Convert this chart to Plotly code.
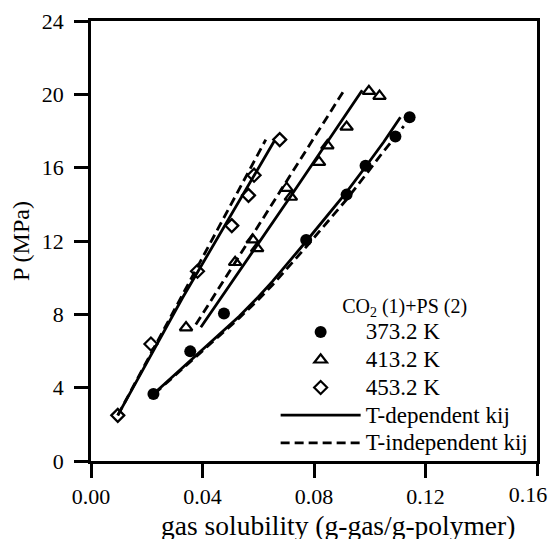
import plotly.graph_objects as go

# ---- measured data (gas solubility g-gas/g-polymer, pressure MPa) ----
sol_373 = [0.0224, 0.0356, 0.0477, 0.0772, 0.0917, 0.0985, 0.1092, 0.1143]
p_373 = [3.66, 5.98, 8.05, 12.05, 14.53, 16.10, 17.70, 18.75]

sol_413 = [0.0341, 0.0517, 0.0580, 0.0596, 0.0702, 0.0717, 0.0818, 0.0848, 0.0917, 0.0997, 0.1035]
p_413 = [7.28, 10.84, 12.07, 11.60, 14.88, 14.40, 16.30, 17.20, 18.22, 20.17, 19.90]

sol_453 = [0.0096, 0.0215, 0.0382, 0.0505, 0.0565, 0.0585, 0.0677]
p_453 = [2.49, 6.38, 10.35, 12.84, 14.49, 15.59, 17.53]

# ---- model curves ----
tdep_373_x = [0.0227, 0.030, 0.037, 0.045, 0.0532, 0.060, 0.0651, 0.0773, 0.085, 0.0916, 0.0985, 0.105, 0.111]
tdep_373_y = [3.70, 4.70, 5.65, 6.75, 7.90, 8.95, 9.80, 12.00, 13.40, 14.65, 16.05, 17.40, 18.75]
tind_373_x = [0.0227, 0.030, 0.037, 0.045, 0.0532, 0.060, 0.0651, 0.0773, 0.085, 0.0916, 0.0985, 0.105, 0.1122]
tind_373_y = [3.66, 4.65, 5.60, 6.68, 7.80, 8.80, 9.60, 11.70, 13.05, 14.25, 15.60, 16.90, 18.26]

tdep_413_x = [0.0394, 0.0466, 0.0717, 0.0973]
tdep_413_y = [7.30, 8.90, 14.45, 20.22]
tind_413_x = [0.0376, 0.0517, 0.0908]
tind_413_y = [7.44, 10.84, 20.22]

tdep_453_x = [0.0096, 0.0328, 0.0657]
tdep_453_y = [2.49, 8.89, 17.44]
tind_453_x = [0.0096, 0.030, 0.0627]
tind_453_y = [2.49, 8.30, 17.53]

x_ticks = [0.00, 0.04, 0.08, 0.12]
x_ticklabels = ["0.00", "0.04", "0.08", "0.12"]
x_last_tick = [0.16]
x_last_label = ["0.16"]
y_ticks = [0, 4, 8, 12, 16, 20, 24]

x_title = "gas solubility (g-gas/g-polymer)"
y_title = "P (MPa)"
legend_title = "CO<sub>2</sub> (1)+PS (2)"
series_names = ["373.2 K", "413.2 K", "453.2 K"]
model_names = ["T-dependent kij", "T-independent kij"]

FONT = "Liberation Serif, Times New Roman, serif"
LW = 2.8


def big(txt):
    return "<span style='font-size:23px'>" + txt + "</span>"


fig = go.Figure()

# (x, y, kind 0=solid/1=dashed, show in legend, x-axis id)
line_sets = [
    (tdep_373_x, tdep_373_y, 0, True, "x"),
    (tdep_413_x, tdep_413_y, 0, False, "x"),
    (tdep_453_x, tdep_453_y, 0, False, "x"),
    (tind_373_x, tind_373_y, 1, True, "x"),
    (tind_413_x, tind_413_y, 1, False, "x"),
    (tind_453_x, tind_453_y, 1, False, "x2"),  # x2 shares the same range as x
]
for xs, ys, kind, show, xa in line_sets:
    fig.add_trace(go.Scatter(
        x=xs, y=ys, mode="lines", name=big(model_names[kind]), showlegend=show,
        xaxis=xa, yaxis="y",
        line=dict(color="black", width=LW, dash="solid" if kind == 0 else "9px,5px"),
        legendrank=10 + kind,
    ))

fig.add_trace(go.Scatter(
    x=sol_373, y=p_373, mode="markers", name=big(series_names[0]), legendrank=1,
    marker=dict(symbol="circle", size=12, color="black"),
))
fig.add_trace(go.Scatter(
    x=sol_413, y=p_413, mode="markers", name=big(series_names[1]), legendrank=2,
    marker=dict(symbol="triangle-up-open", size=11, color="black", line=dict(width=2.2)),
))
fig.add_trace(go.Scatter(
    x=sol_453, y=p_453, mode="markers", name=big(series_names[2]), legendrank=3,
    marker=dict(symbol="diamond-open", size=10, color="black", line=dict(width=2.2)),
))

tick_common = dict(
    ticks="outside", ticklen=14, tickwidth=LW, tickcolor="black",
    showgrid=False, zeroline=False, automargin=False,
    tickfont=dict(family=FONT, size=22, color="black"),
)

fig.update_layout(
    width=550, height=532,
    margin=dict(l=83, r=21, t=13, b=79),
    paper_bgcolor="white", plot_bgcolor="white",
    font=dict(family=FONT, color="black"),
    xaxis=dict(range=[0, 0.16], tickvals=x_ticks, ticktext=x_ticklabels,
               showline=True, linecolor="black", linewidth=LW, mirror=True,
               **tick_common),
    xaxis2=dict(range=[0, 0.16], overlaying="x", anchor="y", side="bottom",
                tickvals=x_last_tick, ticktext=x_last_label, ticklabelshift=-9,
                showline=False, **tick_common),
    yaxis=dict(range=[0, 24], tickvals=y_ticks, ticklabelstandoff=6,
               showline=True, linecolor="black", linewidth=LW, mirror=True,
               title=dict(text=y_title, font=dict(family=FONT, size=24, color="black"), standoff=10),
               **tick_common),
    legend=dict(
        x=0.414, y=0.395, xanchor="left", yanchor="top",
        bgcolor="rgba(0,0,0,0)", borderwidth=0,
        font=dict(family=FONT, size=19, color="black"),
        itemwidth=80,
        title=dict(text=legend_title, side="top center",
                   font=dict(family=FONT, size=20, color="black")),
    ),
    annotations=[dict(
        text=x_title, xref="paper", yref="paper", x=0.554, y=-0.1795,
        xanchor="center", yanchor="bottom", showarrow=False,
        height=28, borderpad=0, valign="middle",
        font=dict(family=FONT, size=27.5, color="black"),
    )],
)

fig.write_html("out.html")
